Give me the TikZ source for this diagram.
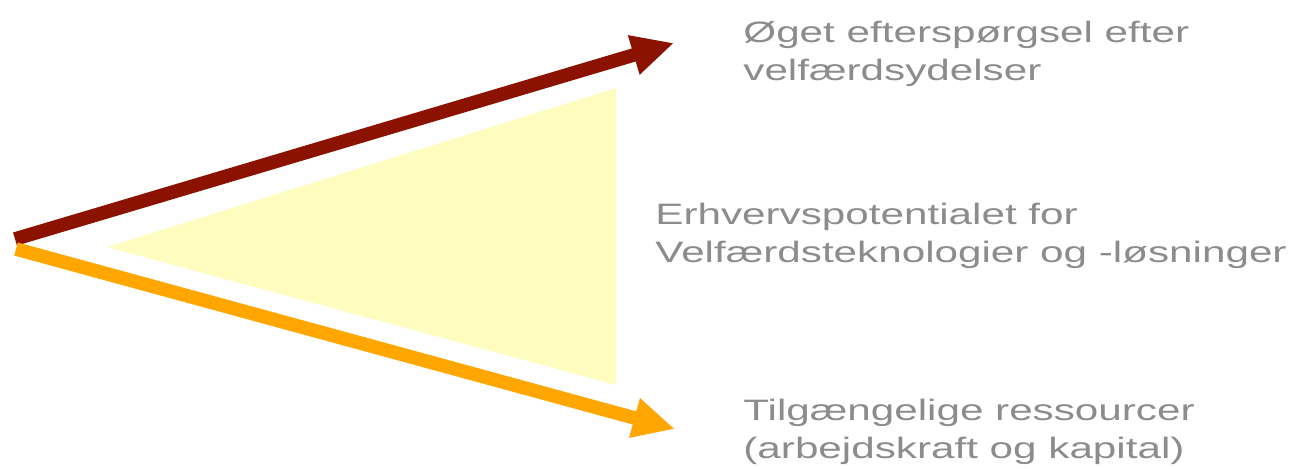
\documentclass[tikz,border=0pt]{standalone}
\usepackage{fontspec}
\setmainfont{Liberation Sans}
\usetikzlibrary{arrows.meta}
\definecolor{pilrod}{RGB}{140,18,0}
\definecolor{pilorange}{RGB}{255,166,0}
\definecolor{feltgul}{RGB}{255,252,192}
\definecolor{tekstgraa}{RGB}{140,140,140}

\begin{document}
\begin{tikzpicture}[x=0.25mm, y=-0.25mm,
        pil/.style={line width=3.4mm, -{Triangle[length=10.5mm, width=9.5mm]}},
        lbl/.style={anchor=base west, inner sep=0pt, align=left, xscale=1.43,
          text=tekstgraa, font=\fontsize{21}{27}\selectfont}]
        \useasboundingbox (0,0) rectangle (1297,468);
        \coordinate (O1) at (15,239);
        \coordinate (O2) at (16,249);
        \coordinate (P1) at (674,43);
        \coordinate (P2) at (675,429);
        % potentialet
        \fill[feltgul] (107,247) -- (616,88) -- (616,385) -- cycle;
        \draw[pil, draw=pilrod, fill=pilrod] (O1) -- (P1);
        \draw[pil, draw=pilorange, fill=pilorange] (O2) -- (P2);
        \node[lbl] (T1) at (743,80) {Øget efterspørgsel efter\\velfærdsydelser};
        \node[lbl] (T2) at (655,262) {Erhvervspotentialet for\\Velfærdsteknologier og -løsninger};
        \node[lbl] (T3) at (743,458) {Tilgængelige ressourcer\\(arbejdskraft og kapital)};
      \end{tikzpicture}
\end{document}
